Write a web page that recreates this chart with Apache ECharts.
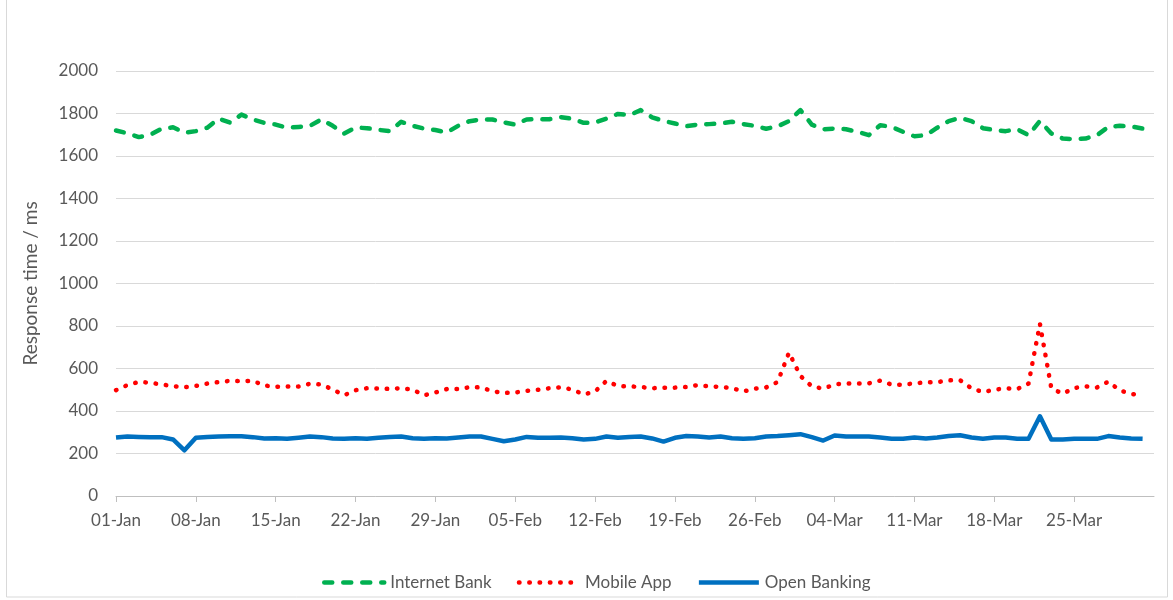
<!DOCTYPE html>
<html>
<head>
<meta charset="utf-8">
<script src="https://cdn.jsdelivr.net/npm/echarts@6.0.0/dist/echarts.min.js"></script>
<style>
  html, body { margin: 0; padding: 0; background: #fff; }
  #chart { width: 1173px; height: 600px; }
</style>
</head>
<body>
<div id="chart"></div>
<script>
// daily values, 01-Jan .. 31-Mar (leap year)
const internetBank = [
  1720, 1707, 1689, 1700, 1728, 1735, 1710, 1717, 1733, 1776,
  1757, 1795, 1772, 1756, 1748, 1733, 1737, 1742, 1772, 1742,
  1706, 1734, 1731, 1723, 1717, 1761, 1742, 1729, 1722, 1711,
  1742, 1764, 1772, 1772, 1758, 1748, 1772, 1773, 1773, 1783,
  1775, 1756, 1758, 1776, 1798, 1792, 1816, 1782, 1765, 1753,
  1740, 1748, 1750, 1753, 1761, 1750, 1742, 1728, 1740, 1764,
  1816, 1748, 1726, 1729, 1726, 1714, 1698, 1745, 1737, 1714,
  1693, 1698, 1733, 1764, 1780, 1764, 1731, 1722, 1717, 1726,
  1698, 1765, 1706, 1682, 1679, 1682, 1698, 1737, 1742, 1739,
  1729
];
const mobileApp = [
  498, 522, 537, 533, 525, 517, 512, 518, 529, 536,
  542, 540, 542, 520, 514, 515, 515, 528, 525, 501,
  474, 498, 507, 506, 504, 507, 501, 474, 487, 503,
  503, 512, 511, 493, 485, 487, 495, 500, 507, 512,
  501, 478, 492, 542, 517, 516, 513, 507, 510, 510,
  513, 522, 516, 513, 508, 492, 505, 511, 536, 675,
  565, 516, 505, 525, 530, 530, 530, 543, 524, 524,
  530, 535, 536, 544, 545, 507, 489, 500, 507, 503,
  529, 810, 507, 481, 508, 516, 511, 538, 497, 481,
  470
];
const openBanking = [
  275, 280, 278, 277, 277, 266, 215, 274, 278, 280,
  281, 281, 277, 271, 272, 269, 274, 280, 277, 271,
  269, 272, 269, 274, 278, 280, 272, 269, 272, 271,
  275, 280, 280, 269, 258, 266, 278, 274, 274, 275,
  272, 266, 269, 280, 274, 278, 280, 271, 256, 274,
  282, 280, 275, 280, 272, 269, 272, 280, 282, 286,
  291, 277, 261, 285, 280, 280, 280, 275, 269, 269,
  275, 271, 275, 282, 286, 275, 269, 275, 275, 269,
  269, 375, 266, 266, 269, 269, 269, 282, 275, 271,
  269
];

// axis runs one day past the data, to 01-Apr
const monthNames = ["Jan", "Feb", "Mar", "Apr"];
const monthDays = [31, 29, 31, 30];
const dates = [];
for (let m = 0; m < monthNames.length && dates.length < 92; m++) {
  for (let d = 1; d <= monthDays[m] && dates.length < 92; d++) {
    dates.push(String(d).padStart(2, "0") + "-" + monthNames[m]);
  }
}

const font = "Lato";
const textColor = "#595959";

const chart = echarts.init(document.getElementById("chart"), null, { renderer: "canvas" });

chart.setOption({
  animation: false,
  backgroundColor: "#fff",
  textStyle: { fontFamily: font },
  graphic: [
    {
      type: "rect",
      shape: { x: 6.5, y: -1, width: 1161, height: 598 },
      style: { fill: "none", stroke: "#d9d9d9", lineWidth: 1 },
      silent: true,
    },
  ],
  grid: { left: 116, right: 19, top: 71, bottom: 104 },
  legend: {
    left: 317,
    top: 569,
    itemWidth: 60,
    itemHeight: 14,
    itemGap: 25,
    itemStyle: { opacity: 0 },
    lineStyle: { width: 4.5 },
    textStyle: { fontFamily: font, fontSize: 17, color: textColor, padding: [0, 0, 0, 1] },
    data: ["Internet Bank", "Mobile App", "Open Banking"],
  },
  xAxis: {
    type: "category",
    data: dates,
    boundaryGap: false,
    axisLine: { lineStyle: { color: "#bfbfbf", width: 1 } },
    axisTick: { interval: 6, length: 6, lineStyle: { color: "#bfbfbf" } },
    axisLabel: {
      interval: 6,
      showMaxLabel: false,
      margin: 16,
      fontFamily: font,
      fontSize: 17,
      color: textColor,
    },
    splitLine: { show: false },
  },
  yAxis: {
    type: "value",
    min: 0,
    max: 2000,
    interval: 200,
    name: "Response time / ms",
    nameLocation: "middle",
    nameGap: 76,
    nameTextStyle: { fontFamily: font, fontSize: 19, color: textColor },
    axisLine: { show: false },
    axisTick: { show: false },
    axisLabel: {
      margin: 18,
      fontFamily: font,
      fontSize: 17,
      color: textColor,
      formatter: (v) => String(v),
    },
    splitLine: { lineStyle: { color: "#d9d9d9", width: 1 } },
  },
  series: [
    {
      name: "Internet Bank",
      type: "line",
      data: internetBank,
      symbol: "none",
      lineStyle: { color: "#00b050", width: 4.5, type: [8, 11], cap: "round", join: "round" },
      itemStyle: { color: "#00b050" },
    },
    {
      name: "Mobile App",
      type: "line",
      data: mobileApp,
      symbol: "none",
      lineStyle: { color: "#ff0000", width: 4.5, type: [0.5, 9.8], cap: "round", join: "round" },
      itemStyle: { color: "#ff0000" },
    },
    {
      name: "Open Banking",
      type: "line",
      data: openBanking,
      symbol: "none",
      lineStyle: { color: "#0070c0", width: 4.5, join: "round" },
      itemStyle: { color: "#0070c0" },
    },
  ],
});
</script>
</body>
</html>
